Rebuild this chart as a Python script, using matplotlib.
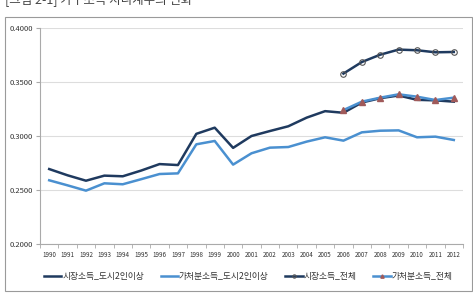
import numpy as np
import matplotlib.pyplot as plt
from matplotlib.patches import Rectangle

plt.rcParams['font.family'] = ['Noto Sans CJK KR', 'DejaVu Sans']

years = [str(y) for y in range(1990, 2013)]

# 시장소득_도시2인이상 (1990-2012)
market_city = [0.2694, 0.2636, 0.2586, 0.2633, 0.2627, 0.2680, 0.2740, 0.2731,
               0.3020, 0.3077, 0.2890, 0.3000, 0.3046, 0.3090, 0.3170, 0.3230,
               0.3215, 0.3310, 0.3350, 0.3375, 0.3335, 0.3330, 0.3318]
# 가처분소득_도시2인이상 (1990-2012)
disp_city = [0.2590, 0.2543, 0.2494, 0.2562, 0.2553, 0.2600, 0.2648, 0.2654,
             0.2923, 0.2954, 0.2735, 0.2840, 0.2892, 0.2898, 0.2948, 0.2988,
             0.2957, 0.3034, 0.3049, 0.3052, 0.2988, 0.2994, 0.2963]
# 시장소득_전체 (2006-2012)
market_all = [0.3578, 0.3685, 0.3753, 0.3800, 0.3794, 0.3775, 0.3778]
# 가처분소득_전체 (2006-2012)
disp_all = [0.3240, 0.3318, 0.3355, 0.3386, 0.3364, 0.3333, 0.3355]

navy = '#1f3a5f'
blue = '#4a90d0'

fig = plt.figure(figsize=(4.73, 2.95), dpi=100)
fig.patches.append(Rectangle((5 / 473, 1 - 291 / 295), 467 / 473, 274 / 295,
                             transform=fig.transFigure, fill=False,
                             edgecolor='#9a9a9a', linewidth=0.8))
# 제목은 원본처럼 위쪽이 잘려 있음
fig.text(0.01, 1 - 6 / 295, '[그림 2-1] 가구소득 지니계수의 변화', fontsize=9,
         color='#444444', va='bottom', ha='left')

ax = fig.add_axes([40 / 473, 1 - 244 / 295, 423 / 473, 216 / 295])
x = np.arange(len(years))
x_all = x[years.index('2006'):]

ax.plot(x, market_city, color=navy, lw=1.8, label='시장소득_도시2인이상')
ax.plot(x, disp_city, color=blue, lw=1.8, label='가처분소득_도시2인이상')
ax.plot(x_all, market_all, color=navy, lw=1.8, marker='o', ms=4,
        mfc='none', mec='#555555', mew=0.8, label='시장소득_전체')
ax.plot(x_all, disp_all, color=blue, lw=1.8, marker='^', ms=4,
        mfc='#a05a5a', mec='#a05a5a', label='가처분소득_전체')

ax.set_xlim(-0.5, len(years) - 0.5)
ax.set_ylim(0.2, 0.4)
ax.set_yticks([0.2, 0.25, 0.3, 0.35, 0.4])
ax.set_yticklabels(['%.4f' % v for v in [0.2, 0.25, 0.3, 0.35, 0.4]],
                   fontsize=5.5, color='#333333')
ax.set_xticks(x)
ax.set_xticklabels(years, fontsize=4.5, color='#333333')
ax.set_xticks(np.arange(len(years) + 1) - 0.5, minor=True)
ax.tick_params(axis='x', which='major', length=0, pad=5)
ax.tick_params(axis='x', which='minor', length=3, color='#aaaaaa')
ax.tick_params(axis='y', length=3, color='#aaaaaa', pad=2)

ax.grid(axis='y', color='#dddddd', lw=0.8)
ax.set_axisbelow(True)
for s in ['top', 'right']:
    ax.spines[s].set_visible(False)
for s in ['left', 'bottom']:
    ax.spines[s].set_color('#aaaaaa')
    ax.spines[s].set_linewidth(0.8)

leg = ax.legend(loc='upper left', bbox_to_anchor=(0.005, -0.12), ncol=4,
                frameon=False, fontsize=6.3, handlelength=2.0,
                handletextpad=0.1, columnspacing=1.9, labelcolor='#333333',
                borderaxespad=0, borderpad=0.2, markerscale=0.6)

fig.savefig('out.png', dpi=100)
